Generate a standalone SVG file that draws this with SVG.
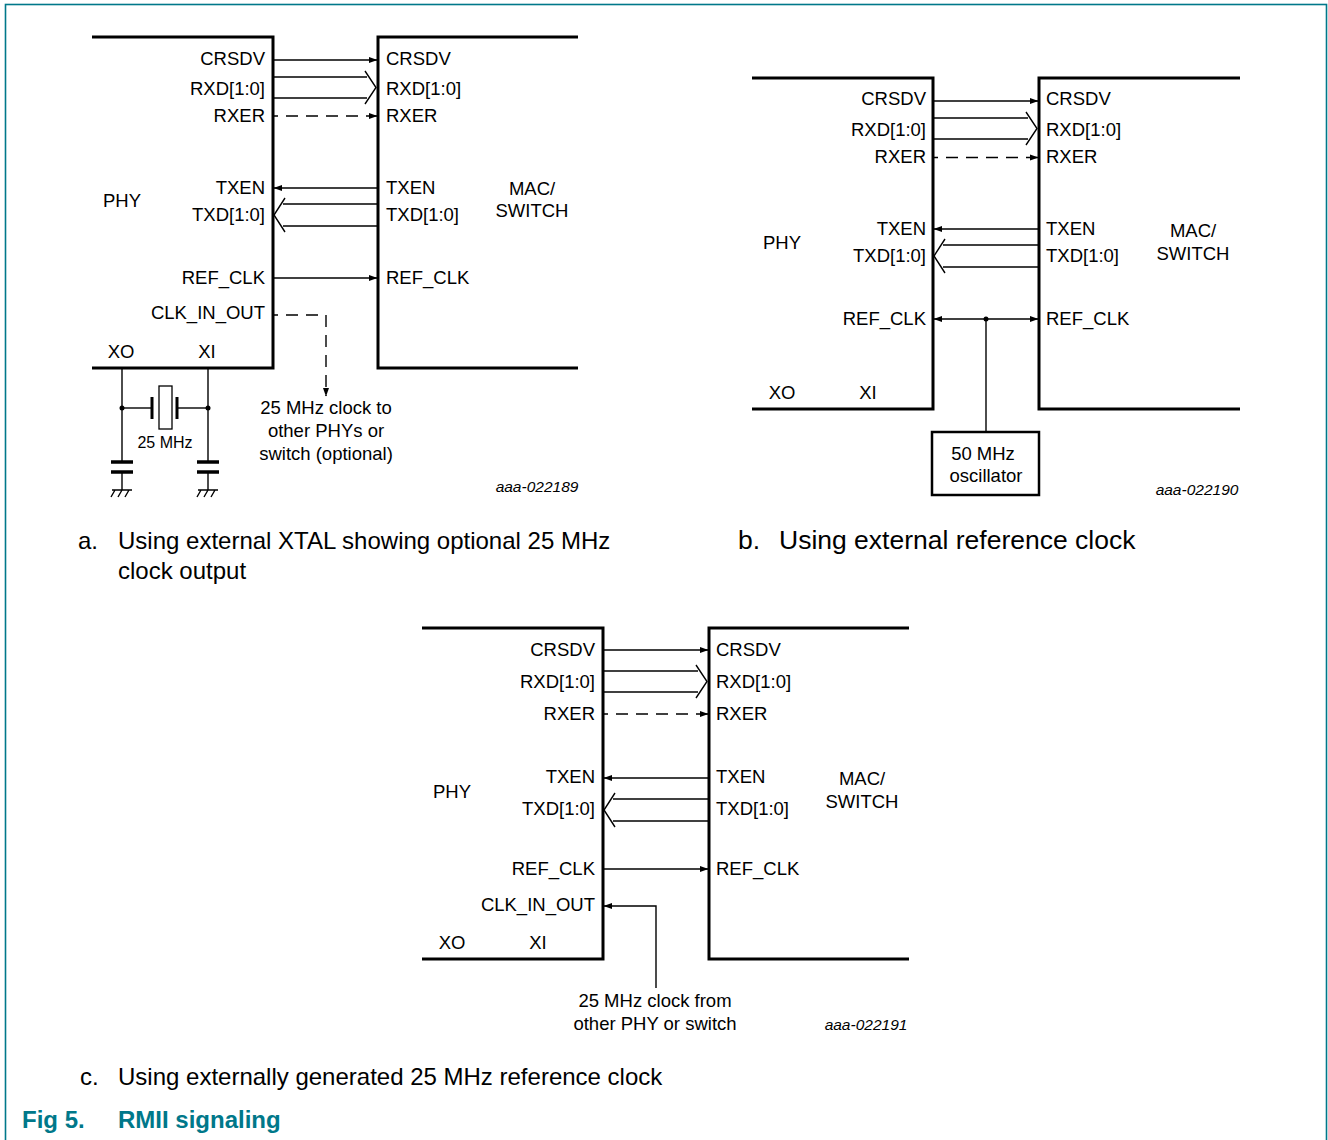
<svg xmlns="http://www.w3.org/2000/svg" width="1328" height="1140" viewBox="0 0 1328 1140">
<defs>
<marker id="ah" markerWidth="9" markerHeight="7" refX="8" refY="3.5" orient="auto" markerUnits="userSpaceOnUse"><path d="M0,0.5 L8.5,3.5 L0,6.5 z" fill="#000"/></marker>
<style>
.t{font-family:"Liberation Sans",Arial,sans-serif;font-size:18.5px;fill:#000}
.e{text-anchor:end}
.m{text-anchor:middle}
.s{font-size:16px}
.id{font-size:15.5px;font-style:italic}
.cap{font-family:"Liberation Sans",Arial,sans-serif;font-size:24px;fill:#000}
.big{font-size:26.5px}
.fig{font-family:"Liberation Sans",Arial,sans-serif;font-size:24px;font-weight:bold;fill:#00788A}
.box{fill:none;stroke:#000;stroke-width:3}
.w{fill:none;stroke:#000;stroke-width:1.4}
.a{marker-end:url(#ah)}
.d{stroke-dasharray:12 8}
.pl{stroke:#000;stroke-width:3.5;fill:none}
</style>
</defs>
<rect x="5.5" y="4.5" width="1321" height="1150" fill="none" stroke="#00788A" stroke-width="1.6"/>

<!-- Diagram a -->
<g id="phy-a">
<polyline class="box" points="92,37 273,37 273,368 92,368"/>
<text class="t e" x="265" y="64.5">CRSDV</text>
<text class="t e" x="265" y="95">RXD[1:0]</text>
<text class="t e" x="265" y="122">RXER</text>
<text class="t e" x="265" y="194">TXEN</text>
<text class="t e" x="265" y="221">TXD[1:0]</text>
<text class="t e" x="265" y="284">REF_CLK</text>
<text class="t e" x="265" y="319">CLK_IN_OUT</text>
<text class="t m" x="122" y="207">PHY</text>
<text class="t m" x="121" y="358">XO</text>
<text class="t m" x="207" y="358">XI</text>
</g>
<g id="mac-a">
<polyline class="box" points="578,37 378,37 378,368 578,368"/>
<text class="t" x="386" y="64.5">CRSDV</text>
<text class="t" x="386" y="95">RXD[1:0]</text>
<text class="t" x="386" y="122">RXER</text>
<text class="t" x="386" y="194">TXEN</text>
<text class="t" x="386" y="221">TXD[1:0]</text>
<text class="t" x="386" y="284">REF_CLK</text>
<text class="t m" x="532" y="195">MAC/</text>
<text class="t m" x="532" y="217">SWITCH</text>
</g>
<g id="xtal-a">
<line class="w" x1="122" y1="369" x2="122" y2="462"/>
<line class="w" x1="208" y1="369" x2="208" y2="462"/>
<line class="w" x1="122" y1="472" x2="122" y2="490"/>
<line class="w" x1="208" y1="472" x2="208" y2="490"/>
<circle cx="122" cy="408" r="2.5"/>
<circle cx="208" cy="408" r="2.5"/>
<line class="w" x1="122" y1="408" x2="151" y2="408"/>
<line class="w" x1="178" y1="408" x2="208" y2="408"/>
<line stroke="#000" stroke-width="3" x1="152" y1="397" x2="152" y2="419"/>
<line stroke="#000" stroke-width="3" x1="177" y1="397" x2="177" y2="419"/>
<rect x="159" y="386" width="13" height="43" fill="#fff" stroke="#000" stroke-width="1.3"/>
<line class="pl" x1="111" y1="462" x2="133" y2="462"/>
<line class="pl" x1="111" y1="472" x2="133" y2="472"/>
<line class="pl" x1="197" y1="462" x2="219" y2="462"/>
<line class="pl" x1="197" y1="472" x2="219" y2="472"/>
<path class="w" d="M112,490 H132 M115,490 L111,497 M122,490 L118,497 M129,490 L125,497"/>
<path class="w" d="M198,490 H218 M201,490 L197,497 M208,490 L204,497 M215,490 L211,497"/>
<text class="t m s" x="165" y="448">25 MHz</text>
</g>
<g id="labels-a">
<text class="t m" x="326" y="413.5">25 MHz clock to</text>
<text class="t m" x="326" y="436.5">other PHYs or</text>
<text class="t m" x="326" y="459.5">switch (optional)</text>
<text class="t m id" x="537" y="492">aaa-022189</text>
</g>

<!-- Diagram b -->
<g id="phy-b">
<polyline class="box" points="752,78 933,78 933,409 752,409"/>
<text class="t e" x="926" y="105">CRSDV</text>
<text class="t e" x="926" y="136">RXD[1:0]</text>
<text class="t e" x="926" y="163">RXER</text>
<text class="t e" x="926" y="235">TXEN</text>
<text class="t e" x="926" y="262">TXD[1:0]</text>
<text class="t e" x="926" y="325">REF_CLK</text>
<text class="t m" x="782" y="249">PHY</text>
<text class="t m" x="782" y="399">XO</text>
<text class="t m" x="868" y="399">XI</text>
</g>
<g id="mac-b">
<polyline class="box" points="1240,78 1039,78 1039,409 1240,409"/>
<text class="t" x="1046" y="105">CRSDV</text>
<text class="t" x="1046" y="136">RXD[1:0]</text>
<text class="t" x="1046" y="163">RXER</text>
<text class="t" x="1046" y="235">TXEN</text>
<text class="t" x="1046" y="262">TXD[1:0]</text>
<text class="t" x="1046" y="325">REF_CLK</text>
<text class="t m" x="1193" y="237">MAC/</text>
<text class="t m" x="1193" y="260">SWITCH</text>
</g>
<g id="osc-b">
<rect x="932" y="432" width="107" height="63" fill="none" stroke="#000" stroke-width="2.5"/>
<text class="t m" x="983" y="460">50 MHz</text>
<text class="t m" x="986" y="481.5">oscillator</text>
</g>
<text class="t m id" x="1197" y="495">aaa-022190</text>

<!-- Diagram c -->
<g id="phy-c">
<polyline class="box" points="422,628 603,628 603,959 422,959"/>
<text class="t e" x="595" y="656">CRSDV</text>
<text class="t e" x="595" y="688">RXD[1:0]</text>
<text class="t e" x="595" y="720">RXER</text>
<text class="t e" x="595" y="783">TXEN</text>
<text class="t e" x="595" y="815">TXD[1:0]</text>
<text class="t e" x="595" y="875">REF_CLK</text>
<text class="t e" x="595" y="911">CLK_IN_OUT</text>
<text class="t m" x="452" y="798">PHY</text>
<text class="t m" x="452" y="949">XO</text>
<text class="t m" x="538" y="949">XI</text>
</g>
<g id="mac-c">
<polyline class="box" points="909,628 709,628 709,959 909,959"/>
<text class="t" x="716" y="656">CRSDV</text>
<text class="t" x="716" y="688">RXD[1:0]</text>
<text class="t" x="716" y="720">RXER</text>
<text class="t" x="716" y="783">TXEN</text>
<text class="t" x="716" y="815">TXD[1:0]</text>
<text class="t" x="716" y="875">REF_CLK</text>
<text class="t m" x="862" y="785">MAC/</text>
<text class="t m" x="862" y="808">SWITCH</text>
</g>
<g id="labels-c">
<text class="t m" x="655" y="1007">25 MHz clock from</text>
<text class="t m" x="655" y="1029.5">other PHY or switch</text>
<text class="t m id" x="866" y="1030">aaa-022191</text>
</g>

<!-- Connectors -->
<g id="connectors">
<!-- a -->
<line class="w a" x1="274" y1="60" x2="377" y2="60"/>
<line class="w" x1="274" y1="77" x2="367" y2="77"/>
<line class="w" x1="274" y1="98" x2="367" y2="98"/>
<polyline class="w" points="365,71 376,87.5 365,104"/>
<line class="w a d" x1="274" y1="116" x2="377" y2="116" stroke-dashoffset="8"/>
<line class="w a" x1="377" y1="188" x2="274" y2="188"/>
<line class="w" x1="283" y1="204" x2="377" y2="204"/>
<line class="w" x1="283" y1="226" x2="377" y2="226"/>
<polyline class="w" points="285,198 274,215 285,232"/>
<line class="w a" x1="274" y1="278" x2="377" y2="278"/>
<polyline class="w a d" points="274,315 326,315 326,396" stroke-dashoffset="8"/>
<!-- b -->
<line class="w a" x1="934" y1="101" x2="1038" y2="101"/>
<line class="w" x1="934" y1="118" x2="1028" y2="118"/>
<line class="w" x1="934" y1="139" x2="1028" y2="139"/>
<polyline class="w" points="1026,112 1037,128.5 1026,145"/>
<line class="w a d" x1="934" y1="157.5" x2="1038" y2="157.5" stroke-dashoffset="8"/>
<line class="w a" x1="1038" y1="229" x2="934" y2="229"/>
<line class="w" x1="943" y1="245" x2="1038" y2="245"/>
<line class="w" x1="943" y1="267" x2="1038" y2="267"/>
<polyline class="w" points="945,239 934,256 945,273"/>
<line class="w a" x1="986" y1="319" x2="934" y2="319"/>
<line class="w a" x1="986" y1="319" x2="1038" y2="319"/>
<circle cx="986" cy="319" r="2.5"/>
<line class="w" x1="986" y1="319" x2="986" y2="432"/>
<!-- c -->
<line class="w a" x1="604" y1="650" x2="708" y2="650"/>
<line class="w" x1="604" y1="671" x2="698" y2="671"/>
<line class="w" x1="604" y1="692" x2="698" y2="692"/>
<polyline class="w" points="696,665 707,681.5 696,698"/>
<line class="w a d" x1="604" y1="714" x2="708" y2="714" stroke-dashoffset="8"/>
<line class="w a" x1="708" y1="778" x2="604" y2="778"/>
<line class="w" x1="613" y1="799" x2="708" y2="799"/>
<line class="w" x1="613" y1="821" x2="708" y2="821"/>
<polyline class="w" points="615,793 604,810 615,827"/>
<line class="w a" x1="604" y1="869" x2="708" y2="869"/>
<polyline class="w a" points="656,988 656,906 604,906"/>
</g>

<!-- Captions -->
<text class="cap" x="78" y="549">a.</text>
<text class="cap" x="118" y="549">Using external XTAL showing optional 25 MHz</text>
<text class="cap" x="118" y="579">clock output</text>
<text class="cap big" x="738" y="549">b.</text>
<text class="cap big" x="779" y="549">Using external reference clock</text>
<text class="cap" x="80" y="1085">c.</text>
<text class="cap" x="118" y="1085">Using externally generated 25 MHz reference clock</text>
<text class="fig" x="22" y="1128">Fig 5.</text>
<text class="fig" x="118" y="1128">RMII signaling</text>
</svg>
